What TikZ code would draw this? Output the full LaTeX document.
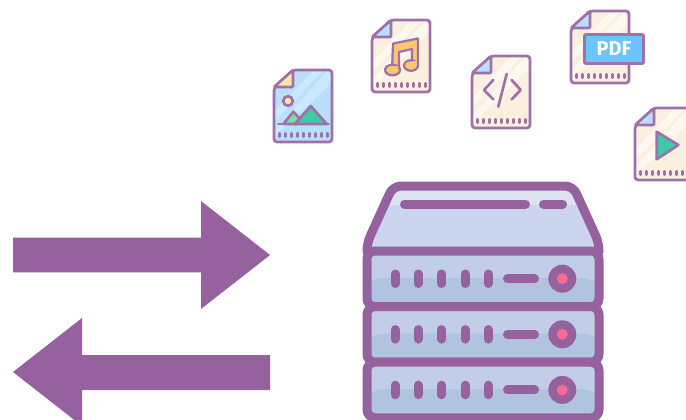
\documentclass[tikz,border=0pt]{standalone}
\usepackage{fontspec}
\newfontfamily\labelfont{Fira Sans}
\definecolor{morado}{HTML}{96619F}
\definecolor{moradoclaro}{HTML}{A070A9}
\definecolor{papel}{HTML}{FBEFDF}
\definecolor{papelclaro}{HTML}{FFF8F1}
\definecolor{azulclaro}{HTML}{BADFFB}
\definecolor{azulpapel}{HTML}{CAE8FF}
\definecolor{amarillo}{HTML}{FBE7A0}
\definecolor{verde}{HTML}{3EC9A7}
\definecolor{verdeclaro}{HTML}{7ADFA5}
\definecolor{naranja}{HTML}{F9C86E}
\definecolor{azulpdf}{HTML}{6CC4FF}
\definecolor{tapa}{HTML}{CBD6EE}
\definecolor{tapaclara}{HTML}{DCE4F0}
\definecolor{fila}{HTML}{C2CDE8}
\definecolor{filaoscura}{HTML}{B0C4E0}
\definecolor{rosa}{HTML}{FF6A8E}
\tikzset{
  linea/.style={draw=moradoclaro, line width=2.7pt, line join=round, line cap=round},
  gruesa/.style={draw=morado, line width=9pt, line join=round, line cap=round},
  flecha/.style={fill=morado},
}
% archivo: x, y, papel, brillo, esquina
\newcommand{\archivo}[5]{%
  \begin{scope}[shift={(#1,#2)}]
    \fill[#3, rounded corners=3pt] (20,1) -- (59,1) -- (59,73) -- (1,73) -- (1,19) -- cycle;
    \fill[#4] (2,42) -- (40,2) -- (50,2) -- (2,52) -- cycle;
    \fill[#4] (58,2) -- (58,14) -- (2,68) -- (2,60) -- (54,2) -- cycle;
    \draw[linea, rounded corners=3pt] (20,1) -- (59,1) -- (59,73) -- (1,73) -- (1,19) -- cycle;
    \draw[linea, fill=#5, rounded corners=1pt] (20,1) -- (20,18) -- (1,18) -- cycle;
    \foreach \i in {0,...,8} {
      \draw[moradoclaro, line width=2.6pt, line cap=round] (6.5+6*\i,64.3) -- (6.5+6*\i,67.7);
    }
  \end{scope}%
}
\begin{document}
\begin{tikzpicture}[x=1pt, y=-1pt]
\useasboundingbox (0,0) rectangle (686,420);
\clip (0,0) rectangle (686,420);
% Flechas
\fill[flecha] (13,237.7) -- (201,237.7) -- (201,201) -- (270,255) -- (201,309) -- (201,272.3) -- (13,272.3) -- cycle;
\fill[flecha] (270,355) -- (82,355) -- (82,318) -- (13,372) -- (82,426) -- (82,390) -- (270,390) -- cycle;
% Imagen
\archivo{273}{69}{azulclaro}{azulpapel}{amarillo}
\begin{scope}[shift={(273,69)}]
  \draw[linea, fill=amarillo] (15,32) circle (4.8);
  \draw[linea, fill=verdeclaro] (10.3,55) -- (20.3,42.7) -- (28,51) -- (24,55) -- cycle;
  \draw[linea, fill=verde] (22,55) -- (37.7,37) -- (53.7,55) -- cycle;
  \draw[linea] (5.5,55) -- (55.5,55);
\end{scope}
% Musica
\archivo{371}{19}{papel}{papelclaro}{azulclaro}
\begin{scope}[shift={(371,19)}]
  \draw[linea, line width=2.2pt, fill=naranja] (21,51) -- (22,24.5) -- (47,19.5) -- (47,46.5) -- (41,46.5) -- (41,30) -- (28,33) -- (28,51) -- cycle;
  \draw[linea, line width=2.2pt, fill=naranja] (21.5,51) ellipse (7.5 and 5.3);
  \draw[linea, line width=2.2pt, fill=naranja] (40,46.5) ellipse (7 and 5.3);
  \fill[naranja] (23.5,47) rectangle (26.9,50);
  \fill[naranja] (42,42.5) rectangle (45.9,46);
\end{scope}
% Codigo
\archivo{471}{55}{papel}{papelclaro}{azulclaro}
\begin{scope}[shift={(471,55)}]
  \draw[linea] (22.3,25) -- (13,35) -- (22.3,44.3);
  \draw[linea] (40.7,25) -- (49.7,35) -- (40.7,44.3);
  \draw[linea] (35.7,19) -- (27.3,51.7);
\end{scope}
% PDF
\archivo{570}{10}{papel}{papelclaro}{azulclaro}
\node[linea, fill=azulpdf, rounded corners=1pt, minimum width=59pt, minimum height=29pt, inner sep=0pt,
  text=white, font=\labelfont\bfseries\fontsize{20}{20}\selectfont] (pdf) at (614,49) {PDF};
% Video
\archivo{634}{107}{papel}{papelclaro}{azulclaro}
\begin{scope}[shift={(634,107)}]
  \draw[linea, fill=verde] (22.7,24.7) -- (44.3,38) -- (22.7,52.3) -- cycle;
\end{scope}
% Servidor
\begin{scope}
  \clip (367,252) -- (367,243) -- (393,186) -- (573,186) -- (599,243) -- (599,252) -- cycle;
  \fill[tapa] (360,180) rectangle (610,255);
  \fill[tapaclara] (360,180) rectangle (610,205);
\end{scope}
\draw[gruesa, rounded corners=8pt] (367,252) -- (367,243) -- (393,186) -- (573,186) -- (599,243) -- (599,252);
\draw[gruesa] (404.5,204.3) -- (525.5,204.3);
\draw[gruesa] (543.5,204.3) -- (562.5,204.3);
\foreach \y in {251,306.6,362.2} {
  \begin{scope}
    \clip[rounded corners=8pt] (367,\y) rectangle (599,\y+55.6);
    \fill[fila] (367,\y) rectangle (599,\y+55.6);
    \fill[filaoscura] (367,\y+34) .. controls (372,\y+29) and (378,\y+27) .. (388,\y+27) -- (578,\y+27)
      .. controls (588,\y+27) and (594,\y+29) .. (599,\y+34) -- (599,\y+56) -- (367,\y+56) -- cycle;
  \end{scope}
  \draw[gruesa, rounded corners=8pt] (367,\y) rectangle (599,\y+55.6);
  \foreach \x in {395,418,441.5,465,488} {
    \draw[gruesa] (\x,\y+23) -- (\x,\y+32.5);
  }
  \draw[gruesa] (507.5,\y+27.7) -- (534.5,\y+27.7);
  \fill[morado] (562.3,\y+27.7) circle (14);
  \fill[rosa] (562.3,\y+27.7) circle (5.5);
}
\end{tikzpicture}
\end{document}
